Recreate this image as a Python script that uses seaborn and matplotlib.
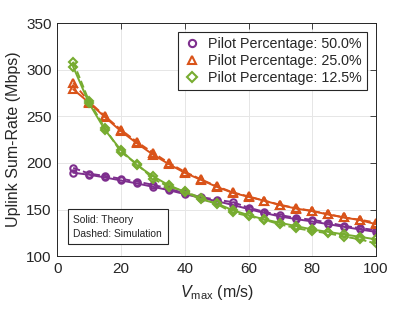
import matplotlib
matplotlib.use("Agg")
import matplotlib.pyplot as plt
import numpy as np
import pandas as pd
import seaborn as sns

# speeds (m/s)
v_max = [5, 10, 15, 20, 25, 30, 35, 40, 45, 50, 55, 60, 65, 70, 75, 80, 85, 90, 95, 100]

# theory curves (Mbps)
theory_50 = [189.5, 187.3, 184.4, 181.2, 178.0, 174.4, 170.8, 166.5, 162.6, 159.0,
             155.0, 150.5, 146.3, 142.5, 139.7, 137.2, 134.3, 131.4, 128.6, 126.0]
theory_25 = [279.0, 264.5, 249.0, 234.0, 221.0, 209.0, 198.7, 189.4, 182.0, 174.4,
             168.0, 163.7, 159.4, 154.7, 151.0, 148.3, 144.7, 141.5, 138.6, 134.3]
theory_12 = [303.0, 263.8, 235.2, 213.7, 197.6, 185.8, 176.0, 169.0, 161.0, 156.5,
             149.4, 144.0, 139.4, 135.7, 132.2, 128.6, 126.0, 123.3, 120.7, 118.0]

# simulation curves (Mbps)
sim_50 = [194.7, 188.5, 186.0, 183.0, 180.0, 176.5, 172.5, 167.5, 163.5, 160.5,
          158.0, 152.0, 147.5, 144.0, 141.0, 139.0, 136.0, 132.5, 130.0, 128.0]
sim_25 = [286.0, 265.5, 250.0, 235.5, 222.5, 211.0, 200.0, 190.5, 182.5, 175.0,
          168.5, 164.0, 159.5, 155.0, 151.5, 148.5, 145.0, 141.5, 139.0, 136.0]
sim_12 = [308.5, 266.0, 237.0, 211.5, 199.0, 183.0, 174.5, 169.5, 162.5, 156.0,
          147.0, 143.0, 139.0, 134.0, 130.0, 127.0, 124.5, 121.0, 118.0, 113.6]

labels = ["Pilot Percentage: 50.0%", "Pilot Percentage: 25.0%", "Pilot Percentage: 12.5%"]
colors = ["#7E2F8E", "#D95319", "#77AC30"]
markers = ["o", "^", "D"]
msizes = [4.6, 5.6, 4.0]

rows = []
for lab, th, sim in zip(labels, [theory_50, theory_25, theory_12], [sim_50, sim_25, sim_12]):
    for v, t, s in zip(v_max, th, sim):
        rows.append({"v": v, "rate": t, "series": lab, "kind": "Theory"})
        rows.append({"v": v, "rate": s, "series": lab, "kind": "Simulation"})
df = pd.DataFrame(rows)

sns.set_theme(style="whitegrid")
plt.rcParams["font.family"] = ["Liberation Sans", "DejaVu Sans"]
plt.rcParams["mathtext.fontset"] = "custom"
plt.rcParams["mathtext.it"] = "Liberation Sans:italic"
plt.rcParams["mathtext.rm"] = "Liberation Sans"

fig = plt.figure(figsize=(4.15, 3.12), dpi=100)
ax = fig.add_axes([0.138, 0.179, 0.768, 0.747])

for lab, col, mk, ms in zip(labels, colors, markers, msizes):
    for kind, ls in [("Theory", "-"), ("Simulation", "--")]:
        sub = df[(df["series"] == lab) & (df["kind"] == kind)]
        sns.lineplot(data=sub, x="v", y="rate", ax=ax, color=col, linestyle=ls,
                     linewidth=1.4, marker=mk, markersize=ms, markerfacecolor="none",
                     markeredgecolor=col, markeredgewidth=1.5, legend=False)

handles = [plt.Line2D([], [], linestyle="none", marker=mk, color=col, markersize=ms + 0.6,
                      markerfacecolor="none", markeredgewidth=1.5)
           for col, mk, ms in zip(colors, markers, msizes)]
leg = ax.legend(handles, labels, loc="upper right", fontsize=10.3, frameon=True,
                fancybox=False, edgecolor="#262626", framealpha=1, borderpad=0.35,
                handletextpad=0.5, labelspacing=0.22, handlelength=1.3,
                borderaxespad=0, bbox_to_anchor=(0.972, 0.962))
leg.get_frame().set_linewidth(0.8)

ax.text(0.05, 0.075, "Solid: Theory\nDashed: Simulation", transform=ax.transAxes,
        fontsize=7.4, va="bottom", ha="left", linespacing=1.5,
        bbox=dict(boxstyle="square,pad=0.55", facecolor="white", edgecolor="#262626",
                  linewidth=0.8))

ax.set_xlim(0, 100)
ax.set_ylim(100, 350)
ax.set_xticks(np.arange(0, 101, 20))
ax.set_yticks(np.arange(100, 351, 50))
ax.set_xlabel(r"$\mathit{V}_{\mathrm{max}}$ (m/s)", fontsize=11.5, labelpad=5)
ax.set_ylabel("Uplink Sum-Rate (Mbps)", fontsize=11.5, labelpad=4)
ax.tick_params(axis="both", labelsize=11, direction="in", length=4, width=0.6,
               colors="#262626", top=True, right=True, pad=4)
ax.grid(True, color="#e6e6e6", linewidth=0.7)
for sp in ax.spines.values():
    sp.set_color("#262626")
    sp.set_linewidth(0.7)

fig.savefig("out.png", dpi=100)
